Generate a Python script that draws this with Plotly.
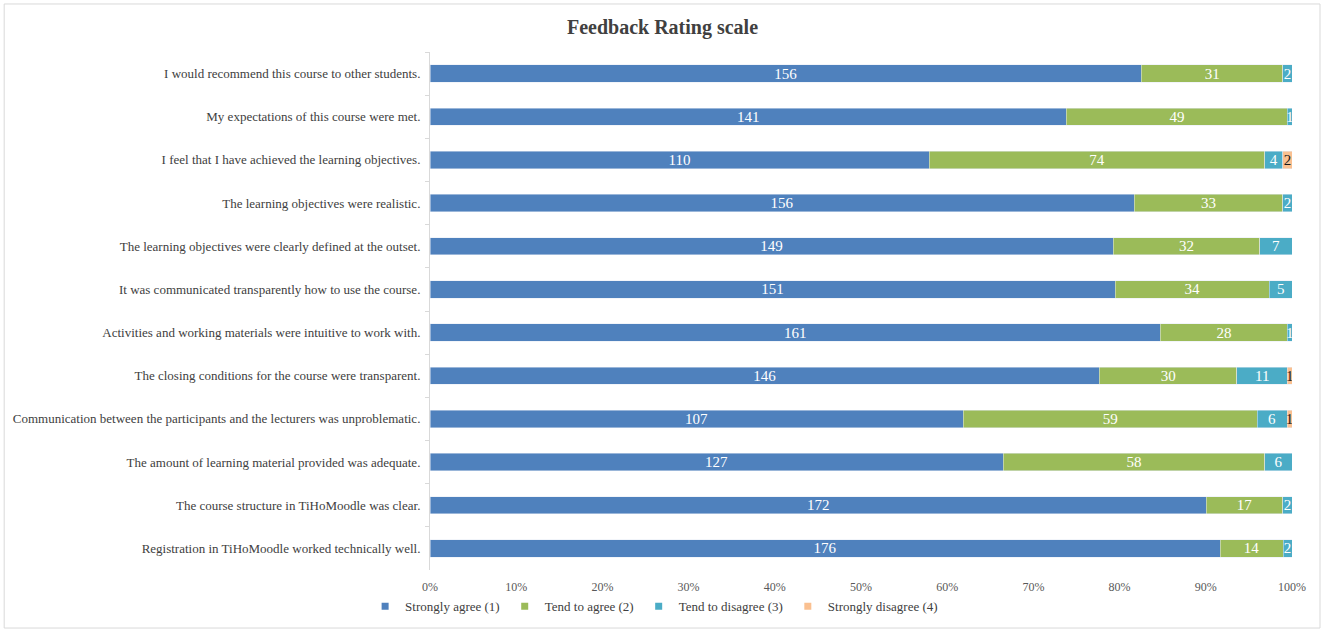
import plotly.graph_objects as go

# feedback survey, counts per answer (rows listed top to bottom)
questions = [
    "I would recommend this course to other students.",
    "My expectations of this course were met.",
    "I feel that I have achieved the learning objectives.",
    "The learning objectives were realistic.",
    "The learning objectives were clearly defined at the outset.",
    "It was communicated transparently how to use the course.",
    "Activities and working materials were intuitive to work with.",
    "The closing conditions for the course were transparent.",
    "Communication between the participants and the lecturers was unproblematic.",
    "The amount of learning material provided was adequate.",
    "The course structure in TiHoMoodle was clear.",
    "Registration in TiHoMoodle worked technically well.",
]

strongly_agree = [156, 141, 110, 156, 149, 151, 161, 146, 107, 127, 172, 176]
tend_agree = [31, 49, 74, 33, 32, 34, 28, 30, 59, 58, 17, 14]
tend_disagree = [2, 1, 4, 2, 7, 5, 1, 11, 6, 6, 2, 2]
strongly_disagree = [0, 0, 2, 0, 0, 0, 0, 1, 1, 0, 0, 0]

series = [
    ("Strongly agree (1)", strongly_agree, "#4F81BD", "white"),
    ("Tend to agree (2)", tend_agree, "#9BBB59", "white"),
    ("Tend to disagree (3)", tend_disagree, "#4BACC6", "white"),
    ("Strongly disagree (4)", strongly_disagree, "#FAC090", "#1a1a1a"),
]

fig = go.Figure()
for name, vals, col, txtcol in series:
    fig.add_trace(go.Bar(
        y=questions,
        x=vals,
        name=name,
        orientation="h",
        marker_color=col,
        text=[str(v) if v > 0 else "" for v in vals],
        textposition="inside",
        insidetextanchor="middle",
        textangle=0,
        constraintext="none",
        textfont=dict(family="Liberation Serif", size=15, color=txtcol),
        hoverinfo="x+y+name",
        showlegend=False,
    ))
    # small square legend keys like the excel chart
    fig.add_trace(go.Scatter(
        x=[None], y=[None], mode="markers", name=name,
        marker=dict(symbol="square", size=7, color=col),
    ))

fig.update_layout(
    barmode="stack",
    barnorm="percent",
    bargap=0.6,
    width=1325,
    height=633,
    paper_bgcolor="white",
    plot_bgcolor="white",
    margin=dict(l=430, r=33, t=52, b=63),
    font=dict(family="Liberation Serif", size=13, color="#404040"),
    title=dict(
        text="<b>Feedback Rating scale</b>",
        x=0.5, xref="container", xanchor="center",
        y=0.957, yref="container", yanchor="middle",
        font=dict(family="Liberation Serif", size=20, color="#404040"),
    ),
    legend=dict(
        orientation="h",
        x=0.26, xanchor="center",
        y=-0.07, yanchor="middle",
        font=dict(size=13, color="#404040"),
        itemwidth=30,
        traceorder="normal",
    ),
    showlegend=True,
)

fig.update_xaxes(
    range=[0, 100],
    dtick=10,
    ticksuffix="%",
    showgrid=False,
    zeroline=False,
    showline=False,
    ticks="outside",
    ticklen=6,
    tickcolor="white",
    tickfont=dict(size=12, color="#595959"),
)
fig.update_yaxes(
    autorange="reversed",
    showgrid=False,
    showline=True,
    linecolor="#d9d9d9",
    ticks="outside",
    tickson="boundaries",
    ticklen=4,
    tickcolor="#d9d9d9",
    ticklabelstandoff=6,
    tickfont=dict(size=13, color="#404040"),
)

# light outer frame of the chart
fig.add_shape(type="rect", xref="paper", yref="paper",
              x0=-0.494, x1=1.0325, y0=-0.112, y1=1.0927,
              line=dict(color="#d9d9d9", width=1))

fig.write_html("out.html", config={"displayModeBar": False},
               post_script="document.body.style.margin='0';")
